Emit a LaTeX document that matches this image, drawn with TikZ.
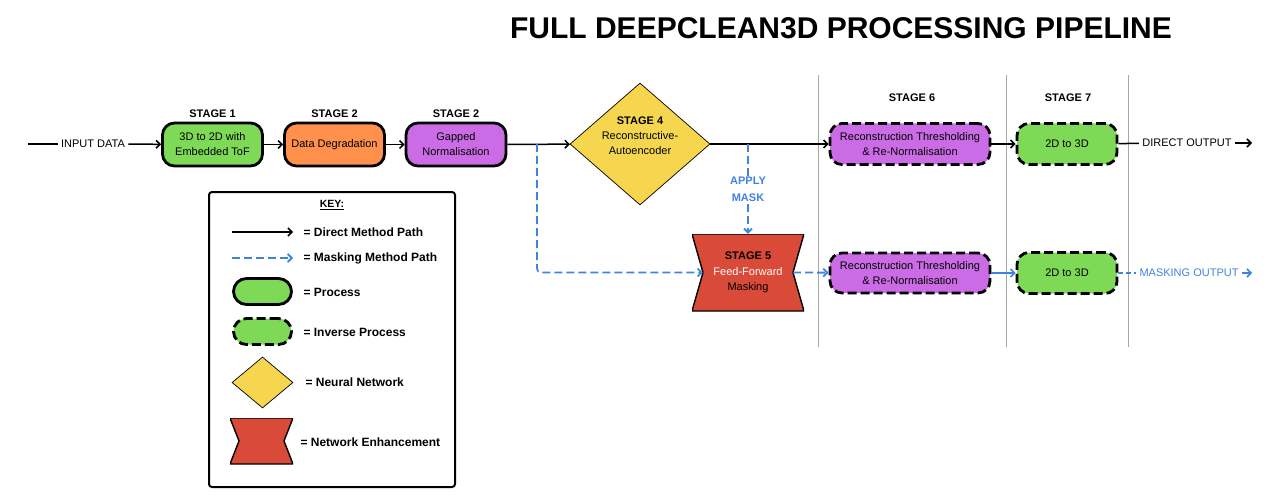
\documentclass[tikz,border=0pt]{standalone}
\usepackage{fontspec}
\setmainfont{Liberation Sans}
\usetikzlibrary{arrows.meta,shapes.geometric}

\definecolor{procgreen}{HTML}{7ED957}
\definecolor{degorange}{HTML}{FF914D}
\definecolor{normpurple}{HTML}{CB6CE6}
\definecolor{nnyellow}{HTML}{F5D64E}
\definecolor{enhred}{HTML}{D94A38}
\definecolor{maskblue}{HTML}{3F83E0}

\tikzset{
  process/.style={draw, line width=2.8pt, rounded corners=12pt, minimum width=100pt,
    minimum height=43pt, align=center, inner sep=2pt, font=\fontsize{11}{15}\selectfont},
  inverse/.style={process, dash pattern=on 9pt off 4pt},
  network/.style={diamond, draw, fill=nnyellow, line width=0.7pt, inner sep=0pt},
  enhance/.style={align=center, path picture={
    \draw[fill=enhred, line width=1.4pt] (path picture bounding box.north west)
      -- (path picture bounding box.north east) -- ([xshift=-#1]path picture bounding box.east)
      -- (path picture bounding box.south east) -- (path picture bounding box.south west)
      -- ([xshift=#1]path picture bounding box.west) -- cycle;}},
  enhance/.default=11pt,
  stagelbl/.style={font=\bfseries\fontsize{11}{13}\selectfont},
  keylbl/.style={anchor=west, font=\bfseries\fontsize{12}{14}\selectfont},
  plain/.style={font=\fontsize{11}{13}\selectfont},
  direct/.style={line width=1.5pt, -{Straight Barb[length=4pt,width=8pt]}},
  masking/.style={maskblue, line width=1.8pt, dash pattern=on 8pt off 4pt,
    -{Straight Barb[length=4pt,width=8pt]}},
  divider/.style={gray!70, line width=0.6pt}
}

\begin{document}
\begin{tikzpicture}[x=1pt, y=-1pt]
  \useasboundingbox (0,0) rectangle (1280,500);

  % title
  \node[font=\bfseries\fontsize{30}{33}\selectfont] (title) at (841,28)
    {FULL DEEPCLEAN3D PROCESSING PIPELINE};

  % stage dividers
  \draw[divider] (818,75) -- (818,347);
  \draw[divider] (1006,75) -- (1006,347);
  \draw[divider] (1128,75) -- (1128,347);

  % direct path
  \coordinate (in) at (28,144);
  \node[plain] (indata) at (93,144) {INPUT DATA};
  \node[process, fill=procgreen] (p1) at (212.5,144.5) {3D to 2D with\\Embedded ToF};
  \node[process, fill=degorange] (p2) at (334.5,144.5) {Data Degradation};
  \node[process, fill=normpurple] (p3) at (456,144.5) {Gapped\\Normalisation};
  \node[stagelbl] (s1lbl) at (212.5,114) {STAGE 1};
  \node[stagelbl] (s2lbl) at (334.5,114) {STAGE 2};
  \node[stagelbl] (s3lbl) at (456,114) {STAGE 2};

  \node[network, minimum width=140pt, minimum height=122pt] (nn) at (640,144) {};
  \node[align=center, font=\fontsize{11}{15}\selectfont] (nntext) at (640,136)
    {\textbf{STAGE 4}\\Reconstructive-\\Autoencoder};

  \node[inverse, fill=normpurple, minimum width=160pt, minimum height=41pt] (rt) at (910,144)
    {Reconstruction Thresholding\\\& Re-Normalisation};
  \node[inverse, fill=procgreen, minimum width=100pt, minimum height=41pt] (td) at (1067,144) {2D to 3D};
  \node[stagelbl] (s6lbl) at (912,98) {STAGE 6};
  \node[stagelbl] (s7lbl) at (1068,98) {STAGE 7};
  \node[plain] (dout) at (1187,143) {DIRECT OUTPUT};
  \coordinate (dend) at (1252,143);

  \draw[line width=1.5pt] (in) -- (indata);
  \draw[direct] (indata) -- (p1);
  \draw[direct] (p1) -- (p2);
  \draw[direct] (p2) -- (p3);
  \draw[direct] (p3) -- (nn);
  \draw[direct] (nn) -- (rt);
  \draw[direct] (rt) -- (td);
  \draw[line width=1.5pt] (td) -- (dout);
  \draw[direct] (dout) -- (dend);

  % masking path
  \node[enhance, minimum width=112pt, minimum height=77pt, font=\fontsize{11}{15}\selectfont] (s5) at (748,272.5)
    {\textbf{STAGE 5}\\[1pt]\color{white}Feed-Forward\\Masking};
  \node[inverse, fill=normpurple, minimum width=160pt, minimum height=40pt] (rtlow) at (910,273)
    {Reconstruction Thresholding\\\& Re-Normalisation};
  \node[inverse, fill=procgreen, minimum width=100pt, minimum height=41pt] (tdlow) at (1067,273) {2D to 3D};
  \node[plain, text=maskblue] (mout) at (1189,273) {MASKING OUTPUT};
  \coordinate (mend) at (1252,273);
  \coordinate (split) at (537,144);
  \coordinate (mask) at (748,144);

  \draw[masking, rounded corners=4pt] (split) |- ([xshift=11pt]s5.west);
  \draw[masking] (mask) -- node[fill=white, text=maskblue, align=center, inner sep=1pt,
    font=\bfseries\fontsize{11}{17}\selectfont] (masklbl) {APPLY\\MASK} (s5);
  \draw[masking] ([xshift=-11pt]s5.east) -- (rtlow);
  \draw[maskblue, line width=1.5pt, -{Straight Barb[length=4pt,width=8pt]}] (rtlow) -- (tdlow);
  \draw[maskblue, line width=1.5pt, dash pattern=on 5pt off 3pt] (tdlow) -- (mout);
  \draw[maskblue, line width=1.5pt, -{Straight Barb[length=4pt,width=8pt]}] (mout) -- (mend);

  % key
  \draw[line width=2pt, rounded corners=3pt] (209,192) rectangle (455,487);
  \node[font=\bfseries\fontsize{10.5}{12}\selectfont] (keytitle) at (332,205) {\underline{KEY:}};
  \coordinate (kd1) at (232,232);
  \coordinate (kd2) at (293,232);
  \coordinate (km1) at (232,258);
  \coordinate (km2) at (293,258);
  \draw[direct] (kd1) -- (kd2);
  \draw[masking] (km1) -- (km2);
  \node[process, fill=procgreen, rounded corners=13pt, minimum width=58pt, minimum height=26pt] (kproc) at (262.5,291.5) {};
  \node[inverse, fill=procgreen, rounded corners=13pt, minimum width=58pt, minimum height=26pt] (kinv) at (262.5,331.5) {};
  \node[network, minimum width=61pt, minimum height=51pt] (knn) at (262.5,382.5) {};
  \node[enhance=9pt, minimum width=63pt, minimum height=46pt] (kenh) at (261.5,441) {};
  \node[keylbl] at (300,232) {= Direct Method Path};
  \node[keylbl] at (300,258) {= Masking Method Path};
  \node[keylbl] at (300,292) {= Process};
  \node[keylbl] at (300,332) {= Inverse Process};
  \node[keylbl] at (302,382) {= Neural Network};
  \node[keylbl] at (297,442) {= Network Enhancement};
\end{tikzpicture}
\end{document}
